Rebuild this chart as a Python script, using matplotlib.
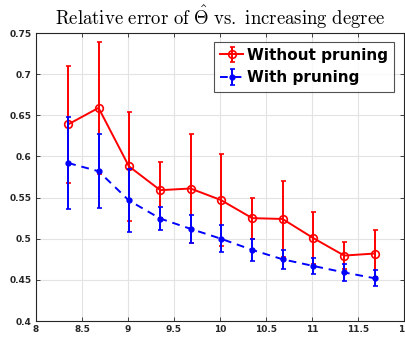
import matplotlib
matplotlib.use("Agg")
import matplotlib.pyplot as plt

degree = [8.35, 8.68, 9.01, 9.35, 9.68, 10.01, 10.35, 10.68, 11.01, 11.35, 11.68]
err_without = [0.639, 0.659, 0.588, 0.559, 0.561, 0.547, 0.525, 0.524, 0.501, 0.4795, 0.482]
std_without = [0.071, 0.080, 0.066, 0.034, 0.066, 0.056, 0.025, 0.046, 0.032, 0.016, 0.029]
err_with = [0.592, 0.582, 0.5465, 0.5245, 0.512, 0.500, 0.4864, 0.475, 0.467, 0.459, 0.452]
std_with = [0.056, 0.045, 0.038, 0.0145, 0.017, 0.0167, 0.0135, 0.0115, 0.0095, 0.0105, 0.0095]
xticks = [8, 8.5, 9, 9.5, 10, 10.5, 11, 11.5, 12]
xticklabels = ["8", "8.5", "9", "9.5", "10", "10.5", "11", "11.5", "12"]
yticks = [0.4, 0.45, 0.5, 0.55, 0.6, 0.65, 0.7, 0.75]
yticklabels = ["0.4", "0.45", "0.5", "0.55", "0.6", "0.65", "0.7", "0.75"]

plt.rcParams['mathtext.fontset'] = 'cm'

fig = plt.figure(figsize=(4.05, 3.41), dpi=100)
ax = fig.add_axes([36/405, 20/341, 368/405, 288/341])

ax.errorbar(degree, err_without, yerr=std_without, color='#ff0000', lw=1.4,
            marker='o', ms=5.5, mfc='none', mec='#ff0000', mew=1.2,
            capsize=1.8, capthick=1.2, elinewidth=1.4, label='Without pruning', zorder=3)
ax.errorbar(degree, err_with, yerr=std_with, color='#0000ff', lw=1.4, ls=(0, (4, 3)),
            marker='o', ms=3.5, mfc='#0000ff', mec='#0000ff',
            capsize=1.8, capthick=1.2, elinewidth=1.4, label='With pruning', zorder=4)

ax.set_xlim(8, 12)
ax.set_ylim(0.4, 0.75)
ax.set_xticks(xticks)
ax.set_xticklabels(xticklabels)
ax.set_yticks(yticks)
ax.set_yticklabels(yticklabels)
ax.grid(True, color='#e3e3e3', lw=0.8)
ax.set_axisbelow(True)
for s in ax.spines.values():
    s.set_color('#262626')
    s.set_linewidth(0.8)
ax.tick_params(direction='in', top=True, right=True, length=3, width=0.6,
               colors='#262626', labelsize=6.5, pad=3)
for lab in ax.get_xticklabels() + ax.get_yticklabels():
    lab.set_fontweight('bold')

ax.set_title(r'$\mathrm{Relative\ error\ of\ }\hat{\mathbf{\Theta}}\mathrm{\ vs.\ increasing\ degree}$',
             fontsize=13.5, pad=6)

leg = ax.legend(loc='upper right', bbox_to_anchor=(394/405, 1 - 41.7/341),
                bbox_transform=fig.transFigure, borderaxespad=0,
                prop={'weight': 'bold', 'size': 11}, frameon=True, fancybox=False,
                handlelength=1.5, handletextpad=0.25, borderpad=0.4, labelspacing=0.5)
leg.get_frame().set_edgecolor('#262626')
leg.get_frame().set_linewidth(0.8)

fig.savefig('out.png', dpi=100)
